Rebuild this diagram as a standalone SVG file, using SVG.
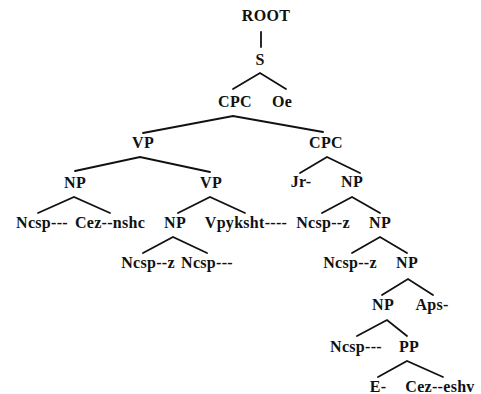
<svg xmlns="http://www.w3.org/2000/svg" width="481" height="394" viewBox="0 0 481 394">
<style>
text{font-family:"Liberation Serif","Times New Roman",serif;font-weight:bold;font-size:16px;fill:#111;text-anchor:middle;letter-spacing:0.3px}
.e{stroke:#111;stroke-width:1.8;fill:none;stroke-linecap:round}
</style>
<rect width="481" height="394" fill="#fff"/>
<g id="connectors" class="e">
<path d="M261 32V47"/>
<path d="M233 89L260 73L286 89"/>
<path d="M143 133L233 116L323 132"/>
<path d="M75 171L140 157L210 172"/>
<path d="M300 173L327 157L360 173"/>
<path d="M38 213L74 197L110 213"/>
<path d="M178 213L210 197L245 213"/>
<path d="M322 213L352 197L380 213"/>
<path d="M143 253L173 237L207 253"/>
<path d="M352 253L380 237L407 253"/>
<path d="M382 295L408 279L433 295"/>
<path d="M357 336L387 320L407 336"/>
<path d="M378 377L407 361L443 377"/>
</g>
<g id="n_root"><text x="266" y="21">ROOT</text></g>
<g id="n_s"><text x="260" y="65">S</text></g>
<g id="n_cpc1"><text x="235" y="107">CPC</text></g>
<g id="n_oe"><text x="282" y="107">Oe</text></g>
<g id="n_vp1"><text x="143" y="148">VP</text></g>
<g id="n_cpc2"><text x="326" y="148">CPC</text></g>
<g id="n_np1"><text x="75" y="188">NP</text></g>
<g id="n_vp2"><text x="211" y="188">VP</text></g>
<g id="n_jr"><text x="301" y="187">Jr-</text></g>
<g id="n_np2"><text x="352" y="187">NP</text></g>
<g id="n_ncsp1"><text x="42" y="228">Ncsp---</text></g>
<g id="n_cez1"><text x="110" y="228">Cez--nshc</text></g>
<g id="n_np3"><text x="175" y="228">NP</text></g>
<g id="n_vpyk"><text x="246" y="228">Vpyksht----</text></g>
<g id="n_ncspz1"><text x="323" y="228">Ncsp--z</text></g>
<g id="n_np4"><text x="380" y="228">NP</text></g>
<g id="n_ncspz2"><text x="148" y="268">Ncsp--z</text></g>
<g id="n_ncsp2"><text x="207" y="268">Ncsp---</text></g>
<g id="n_ncspz3"><text x="350" y="268">Ncsp--z</text></g>
<g id="n_np5"><text x="407" y="268">NP</text></g>
<g id="n_np6"><text x="383" y="310">NP</text></g>
<g id="n_aps"><text x="432" y="310">Aps-</text></g>
<g id="n_ncsp3"><text x="356" y="352">Ncsp---</text></g>
<g id="n_pp"><text x="409" y="352">PP</text></g>
<g id="n_e"><text x="378" y="392">E-</text></g>
<g id="n_cez2"><text x="440" y="392">Cez--eshv</text></g>
</svg>
